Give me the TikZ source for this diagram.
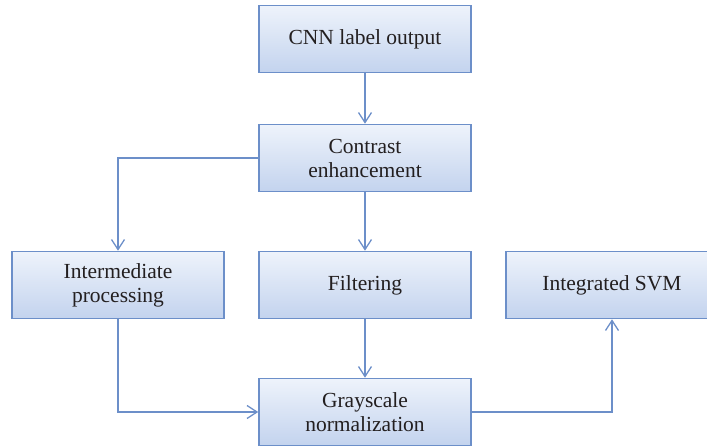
\documentclass[tikz,border=0pt]{standalone}
\usepackage{fontspec}
\setmainfont{Liberation Serif}
\usetikzlibrary{arrows.meta}
\definecolor{edgeblue}{HTML}{6C8FC9}
\definecolor{boxtop}{HTML}{EEF3FB}
\definecolor{boxbottom}{HTML}{C3D3EE}
\definecolor{inkdark}{HTML}{231F20}
\begin{document}
\begin{tikzpicture}[x=1pt,y=-1pt,
  procbox/.style={draw=edgeblue, line width=1.6pt, top color=boxtop, bottom color=boxbottom,
    minimum width=212pt, minimum height=67pt, inner sep=0pt, align=center,
    text=inkdark, font=\fontsize{21.5}{24}\selectfont},
  flow/.style={draw=edgeblue, line width=1.3pt, -{Straight Barb[length=10pt,width=13pt,line width=1.3pt]}}]
  \useasboundingbox (0,0) rectangle (707,447);
  \node[procbox] (cnn) at (365,39) {CNN label output};
  \node[procbox] (contrast) at (365,158) {Contrast\\enhancement};
  \node[procbox] (inter) at (118,285) {Intermediate\\processing};
  \node[procbox] (filter) at (365,285) {Filtering};
  \node[procbox] (svm) at (612,285) {Integrated SVM};
  \node[procbox] (gray) at (365,412) {Grayscale\\normalization};
  \draw[flow] (cnn.south) -- (contrast.north);
  \draw[flow] (contrast.west) -| (inter.north);
  \draw[flow] (contrast.south) -- (filter.north);
  \draw[flow] (filter.south) -- (gray.north);
  \draw[flow] (inter.south) |- (gray.west);
  \draw[flow] (gray.east) -| (svm.south);
\end{tikzpicture}
\end{document}
